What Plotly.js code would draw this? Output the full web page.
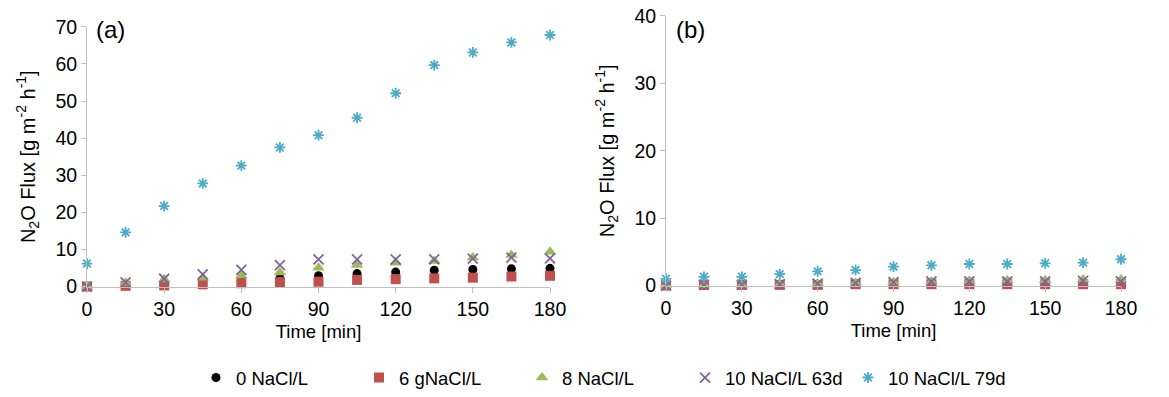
<!DOCTYPE html>
<html><head><meta charset="utf-8">
<script src="https://cdn.plot.ly/plotly-3.0.1.min.js"></script>
<style>body{margin:0;background:#fff}#c{width:1169px;height:397px}</style>
</head><body><div id="c"></div>
<script>
const time = [0,15,30,45,60,75,90,105,120,135,150,165,180];
const names = ['0 NaCl/L','6 gNaCl/L','8 NaCl/L','10 NaCl/L 63d','10 NaCl/L 79d'];
// Panel (a)
const a_0   = [0,0.3,0.5,0.8,1.6,2.2,2.9,3.5,3.9,4.4,4.6,4.8,4.9];
const a_6   = [0,0.2,0.3,0.6,0.9,1.2,1.3,1.8,2.0,2.2,2.4,2.7,2.9];
const a_8   = [0,1.0,2.0,2.4,3.0,3.8,5.1,5.8,6.4,6.9,7.8,8.5,9.4];
const a_63  = [0,1.1,2.1,3.3,4.5,5.8,7.3,7.3,7.3,7.3,7.5,7.8,7.6];
const a_79  = [6.2,14.6,21.7,27.8,32.6,37.5,40.8,45.5,52.1,59.7,63.1,65.8,67.8];
// Panel (b)
const b_0   = [0,0.1,0.1,0.2,0.2,0.3,0.3,0.4,0.4,0.4,0.4,0.4,0.4];
const b_6   = [0,0.1,0.1,0.1,0.1,0.2,0.2,0.2,0.2,0.2,0.2,0.2,0.2];
const b_8   = [0,0.1,0.1,0.2,0.3,0.4,0.5,0.6,0.7,0.8,0.8,0.9,0.9];
const b_63  = [0,0.1,0.1,0.2,0.3,0.4,0.5,0.6,0.6,0.6,0.6,0.7,0.6];
const b_79  = [1.0,1.3,1.3,1.7,2.1,2.3,2.8,3.0,3.2,3.2,3.3,3.4,3.9];

const colors = ['#000000','#C0504D','#9BBB59','#8064A2','#4BACC6'];
const symbols = ['circle','square','triangle-up','x-thin-open','asterisk-open'];
const sizes = [9,10,11,10,9];
const A = [a_0,a_6,a_8,a_63,a_79], B = [b_0,b_6,b_8,b_63,b_79];
const traces = [];
function mk(i, y, xa, ya, show){
  const open = symbols[i].endsWith('open');
  return {x: time, y: y, xaxis: xa, yaxis: ya, type:'scatter', mode:'markers', name: names[i],
    showlegend: show, cliponaxis:false,
    marker:{symbol:symbols[i], size:sizes[i], color:colors[i], line:{color:colors[i], width: open?1.8:0}}};
}
for (let i=0;i<5;i++) traces.push(mk(i,A[i],'x','y',true));
for (let i=0;i<5;i++) traces.push(mk(i,B[i],'x2','y2',false));

const fam = 'Liberation Sans, Arial, sans-serif';
const font = {family:fam, size:19, color:'#000'};
const ax = {showgrid:false, zeroline:false, showline:true, linecolor:'#BFBFBF', linewidth:1,
  ticks:'outside', ticklen:5, tickcolor:'#BFBFBF', tickfont:{family:fam,size:19.5,color:'#000'}};
const ytitle = 'N<sub>2</sub>O Flux [g m<sup>-2</sup> h<sup>-1</sup>]';
const layout = {
  width:1169, height:397, margin:{l:0,r:0,t:0,b:0}, paper_bgcolor:'#fff', plot_bgcolor:'#fff',
  font: font, showlegend:true,
  xaxis: Object.assign({}, ax, {domain:[87/1169,550/1169], range:[0,180], tickvals:[0,30,60,90,120,150,180],
    title:{text:'Time [min]', font:{family:fam,size:18.5}, standoff:6}, anchor:'y'}),
  yaxis: Object.assign({}, ax, {domain:[109/397,370/397], range:[0,70], dtick:10,
    title:{text:ytitle, font:{family:fam,size:20}, standoff:14}, anchor:'x'}),
  xaxis2: Object.assign({}, ax, {domain:[666/1169,1121/1169], range:[0,180], tickvals:[0,30,60,90,120,150,180],
    title:{text:'Time [min]', font:{family:fam,size:18.5}, standoff:6}, anchor:'y2'}),
  yaxis2: Object.assign({}, ax, {domain:[110/397,381/397], range:[0,40], dtick:10,
    title:{text:ytitle, font:{family:fam,size:20}, standoff:14}, anchor:'x2'}),
  legend:{orientation:'h', x:196/1169, xanchor:'left', y:17/397, yanchor:'middle',
    font:{family:fam,size:18.5}, entrywidth:118, itemwidth:20, tracegroupgap:0},
  annotations:[
    {text:'(a)', xref:'paper', yref:'paper', x:94/1169, y:(397-30)/397, xanchor:'left', yanchor:'middle', showarrow:false, font:{family:fam,size:24}},
    {text:'(b)', xref:'paper', yref:'paper', x:674/1169, y:(397-30)/397, xanchor:'left', yanchor:'middle', showarrow:false, font:{family:fam,size:24}}
  ]
};
Plotly.newPlot('c', traces, layout, {displayModeBar:false, staticPlot:true});
</script></body></html>
